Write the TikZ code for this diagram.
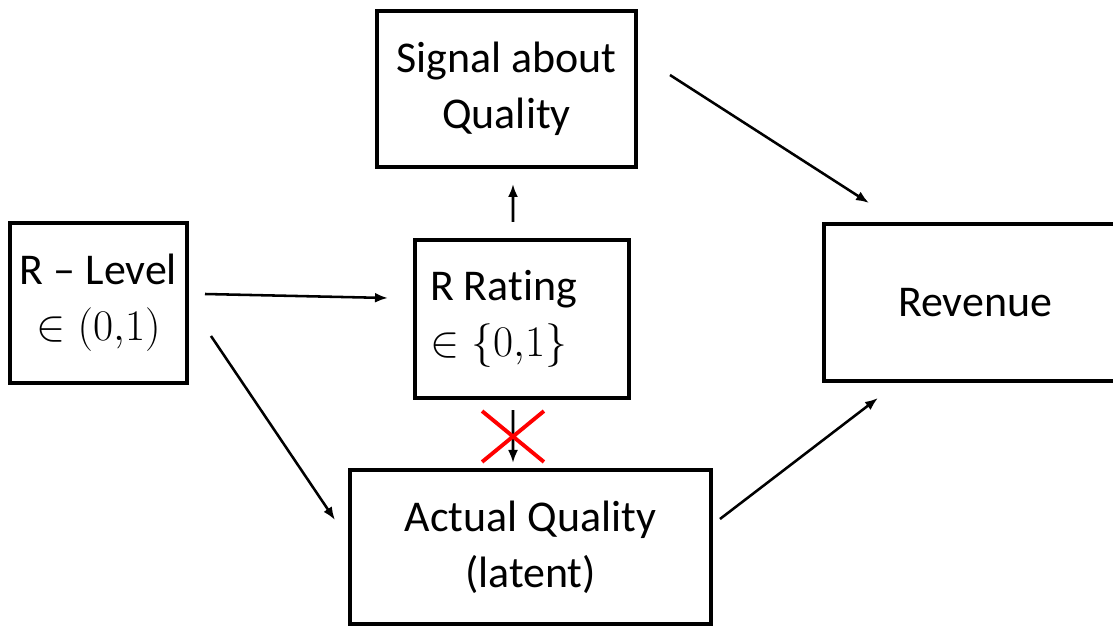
\documentclass[tikz,border=0pt]{standalone}
\usepackage{fontspec}
\setmainfont{Carlito}[Ligatures=NoCommon]
\usepackage{tikz}
\usetikzlibrary{arrows.meta,shapes.misc}

\begin{document}
\begin{tikzpicture}[x=0.02cm, y=-0.02cm,
    box/.style={rectangle, draw, line width=2.3pt, align=center, inner sep=0pt,
                font=\fontsize{25}{32}\selectfont},
    arrow/.style={-{Latex[length=0.26cm, width=0.2cm]}, line width=1.45pt},
    crossmark/.style={cross out, draw=red, line width=2.2pt, minimum width=1.16cm,
                      minimum height=0.94cm, inner sep=0pt}
]
    \clip (0,0) rectangle (1113,628);

    \node[box, minimum width=3.54cm, minimum height=3.2cm] (level) at (98.5,303) {R -- Level\\$\in (0{,}1)$};
    \node[box, minimum width=5.18cm, minimum height=3.12cm] (signal) at (506.5,89) {Signal about\\Quality};
    \node[box, minimum width=4.28cm, minimum height=3.16cm, text width=3.68cm, align=left,
          inner xsep=0.3cm] (rating) at (522,319) {\spaceskip=0pt R Rating\\$\in \{0{,}1\}$};
    \node[box, minimum width=6.04cm, minimum height=3.14cm] (revenue) at (975,302.5) {Revenue};
    \node[box, minimum width=7.22cm, minimum height=3.08cm] (actual) at (530.5,547) {Actual Quality\\(latent)};

    \draw[arrow] ([xshift=0.32cm, yshift=0.18cm]level.east) -- ([xshift=-0.5cm, yshift=0.42cm]rating.west);
    \draw[arrow] ([xshift=0.44cm, yshift=-0.66cm]level.east) -- ([xshift=-0.26cm, yshift=0.54cm]actual.west);
    \draw[arrow] ([xshift=-0.18cm, yshift=0.32cm]rating.north) -- ([xshift=0.13cm, yshift=-0.3cm]signal.south);
    \draw[arrow] ([xshift=-0.18cm, yshift=-0.2cm]rating.south) -- node[crossmark] (blocked) {} ([xshift=-0.35cm, yshift=0.1cm]actual.north);
    \draw[arrow] ([xshift=0.64cm, yshift=0.28cm]signal.east) -- ([xshift=0.94cm, yshift=0.38cm]revenue.north west);
    \draw[arrow] ([xshift=0.14cm, yshift=0.56cm]actual.east) -- ([xshift=1.12cm, yshift=-0.3cm]revenue.south west);
\end{tikzpicture}
\end{document}
